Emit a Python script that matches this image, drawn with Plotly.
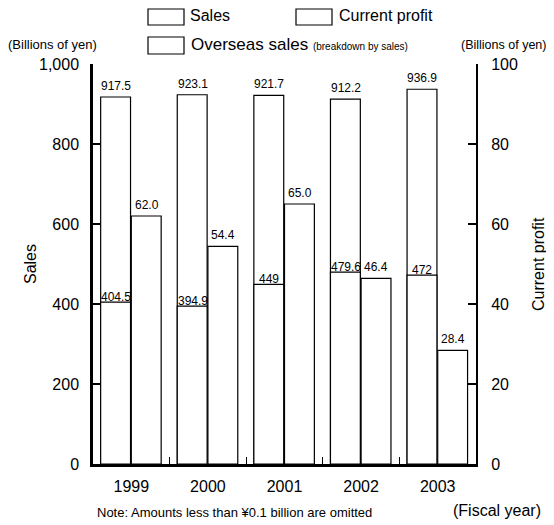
import plotly.graph_objects as go

years = ["1999", "2000", "2001", "2002", "2003"]
sales = [917.5, 923.1, 921.7, 912.2, 936.9]
overseas = [404.5, 394.9, 449, 479.6, 472]
overseas_txt = ["404.5", "394.9", "449", "479.6", "472"]
profit = [62.0, 54.4, 65.0, 46.4, 28.4]

PAGE_OFF = 8  # default body margin of the html page
W, H = 554 - PAGE_OFF, 525 - PAGE_OFF
L, R, T, B = 93, 476, 64, 464  # plot box in page pixels
FONT = "Liberation Sans, Arial, Helvetica, sans-serif"
NARROW = "Liberation Sans Narrow, Arial Narrow, Liberation Sans, sans-serif"


def px(x):
    return (x - L) / (R - L)


def py(y):
    return (B - y) / (B - T)


xi = list(range(len(years)))
bw = 0.39
line = dict(color="black", width=1.2)

fig = go.Figure()
fig.add_trace(go.Bar(x=xi, y=sales, width=bw, offset=-0.4,
                     marker=dict(color="white", line=line), name="Sales"))
fig.add_trace(go.Bar(x=xi, y=overseas, width=bw, offset=-0.4,
                     marker=dict(color="white", line=line), name="Overseas sales"))
fig.add_trace(go.Bar(x=xi, y=profit, width=bw, offset=0.0, yaxis="y2",
                     marker=dict(color="white", line=line), name="Current profit"))

ann = []
for i, v in zip(xi, sales):
    ann.append(dict(x=i - 0.2, y=v, xref="x", yref="y", text=f"{v:.1f}", showarrow=False,
                    xanchor="center", yshift=2, yanchor="bottom", font=dict(size=12)))
for i, v, t in zip(xi, overseas, overseas_txt):
    ann.append(dict(x=i - 0.2, y=v, xref="x", yref="y", text=t, showarrow=False,
                    xanchor="center", yshift=-4, yanchor="bottom", font=dict(size=12)))
for i, v in zip(xi, profit):
    ann.append(dict(x=i + 0.2, y=v, xref="x", yref="y2", text=f"{v:.1f}", showarrow=False,
                    xanchor="center", yshift=2, yanchor="bottom", font=dict(size=12)))


def pann(x, y, text, size=16, xanchor="center", yanchor="middle", **kw):
    return dict(x=px(x), y=py(y), xref="paper", yref="paper", text=text, showarrow=False,
                xanchor=xanchor, yanchor=yanchor, font=dict(size=size, **kw.pop("font", {})), **kw)


ann += [
    pann(30, 264, "Sales", textangle=-90),
    pann(538, 264, "Current profit", textangle=-90),
    pann(52, 45, "(Billions of yen)", size=13, font=dict(family=NARROW)),
    pann(503, 45, "(Billions of yen)", size=12.5, font=dict(family=NARROW)),
    pann(95, 512, "Note: Amounts less than ¥0.1 billion are omitted", size=13, xanchor="left"),
    pann(497, 510, "(Fiscal year)"),
    pann(188, 16, "Sales", xanchor="left"),
    pann(337, 16, "Current profit", xanchor="left"),
    pann(189, 45, "Overseas sales <span style='font-size:10px'>(breakdown by sales)</span>",
         size=17, xanchor="left"),
]

shapes = []
for (x0, y0, x1, y1) in [(148, 9, 184, 25), (296, 9, 332, 25), (148, 37, 184, 54)]:
    shapes.append(dict(type="rect", xref="paper", yref="paper", x0=px(x0), x1=px(x1),
                       y0=py(y1), y1=py(y0), line=dict(color="black", width=1.2),
                       fillcolor="white"))

fig.update_layout(
    width=W, height=H, autosize=False,
    margin=dict(l=L - PAGE_OFF, r=554 - R, t=T - PAGE_OFF, b=525 - B, pad=0, autoexpand=False),
    paper_bgcolor="white", plot_bgcolor="white",
    font=dict(family=FONT, color="black", size=16),
    showlegend=False, barmode="overlay",
    annotations=ann, shapes=shapes,
    xaxis=dict(range=[-0.5, len(years) - 0.5], tickvals=xi, ticktext=years, ticks="",
               automargin=False, showline=True, linecolor="black", linewidth=3,
               minor=dict(tickvals=[i + 0.5 for i in xi[:-1]], ticks="inside", ticklen=7,
                          tickwidth=1, tickcolor="black", showgrid=False),
               showgrid=False, zeroline=False, tickfont=dict(size=16),
               ticklabelstandoff=6, tickangle=0),
    yaxis=dict(range=[0, 1000], dtick=200, tickformat=",", showline=True, linecolor="black",
               automargin=False,
               linewidth=2.5, ticks="inside", ticklen=8, tickwidth=1.5, tickcolor="black",
               showgrid=False, zeroline=False, tickfont=dict(size=16), ticklabelstandoff=8),
    yaxis2=dict(range=[0, 100], dtick=20, overlaying="y", side="right", showline=True,
                automargin=False,
                linecolor="black", linewidth=2, ticks="inside", ticklen=8, tickwidth=1.5,
                tickcolor="black", showgrid=False, zeroline=False, tickfont=dict(size=16),
                ticklabelstandoff=10),
)

fig.write_html("out.html")
